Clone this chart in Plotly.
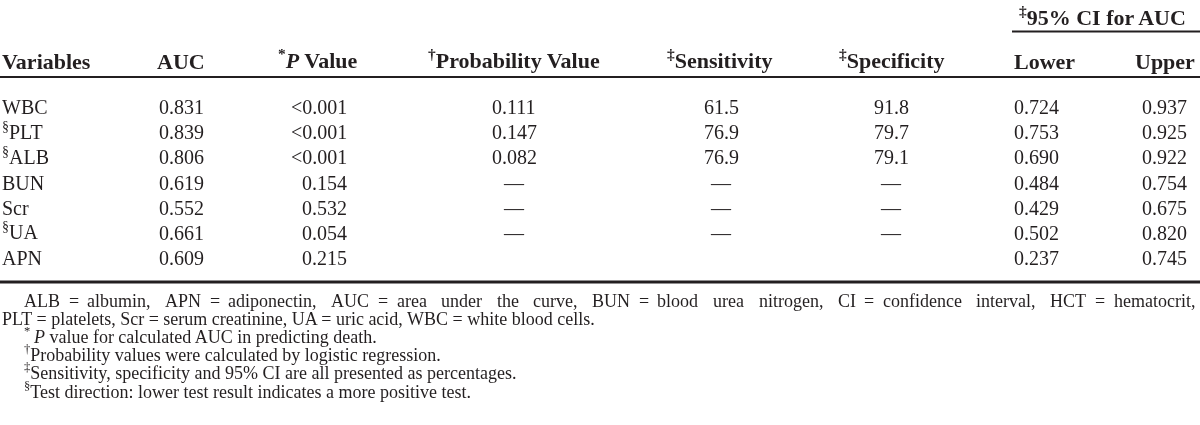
import plotly.graph_objects as go

# ---- data ----
variables = ["WBC", "PLT", "ALB", "BUN", "Scr", "UA", "APN"]
var_marks = ["", "§", "§", "", "", "§", ""]
auc = ["0.831", "0.839", "0.806", "0.619", "0.552", "0.661", "0.609"]
p_value = ["<0.001", "<0.001", "<0.001", "0.154", "0.532", "0.054", "0.215"]
prob_value = ["0.111", "0.147", "0.082", "—", "—", "—", ""]
sensitivity = ["61.5", "76.9", "76.9", "—", "—", "—", ""]
specificity = ["91.8", "79.7", "79.1", "—", "—", "—", ""]
ci_lower = ["0.724", "0.753", "0.690", "0.484", "0.429", "0.502", "0.237"]
ci_upper = ["0.937", "0.925", "0.922", "0.754", "0.675", "0.820", "0.745"]

group_header = "<sup>‡</sup>95% CI for AUC"
headers = ["Variables", "AUC", "<sup>*</sup><i>P</i> Value", "<sup>†</sup>Probability Value",
           "<sup>‡</sup>Sensitivity", "<sup>‡</sup>Specificity", "Lower", "Upper"]

# first footnote line is justified in the reference
footnote_line1 = ("ALB = albumin, APN = adiponectin, AUC = area under the curve, "
                  "BUN = blood urea nitrogen, CI = confidence interval, HCT = hematocrit,")
footnotes = [
    "PLT = platelets, Scr = serum creatinine, UA = uric acid, WBC = white blood cells.",
    "<sup>*</sup>\u2009<i>P</i> value for calculated AUC in predicting death.",
    "<sup>†</sup>Probability values were calculated by logistic regression.",
    "<sup>‡</sup>Sensitivity, specificity and 95% CI are all presented as percentages.",
    "<sup>§</sup>Test direction: lower test result indicates a more positive test.",
]

# ---- layout (pixel-based positions) ----
W, H = 1200, 425
FONT = "Liberation Serif, Times New Roman, serif"
INK = "#231f20"
BODY = 20
HEAD = 22
NOTE = 18

col_x = [0, 181, 349, 514, 721, 891, 1012, 1189]
col_anchor = ["left", "center", "right", "center", "center", "center", "left", "right"]
head_x = [0, 181, 359, 514, 720, 891, 1012, 1197]
head_anchor = ["left", "center", "right", "center", "center", "center", "left", "right"]

row_y0, row_dy = 107, 25.2
header_y = 61
group_y = 16
note_y0, note_dy = 300.5, 18.2
note_x = [0, 22, 22, 22, 22]
line1_left, line1_right = 22, 1193

# Times/Liberation Serif advance widths (per 1000 em) for justifying line 1
TW = {" ": 250, ",": 250, "=": 564, "A": 722, "B": 667, "C": 667, "H": 722, "I": 333,
      "L": 611, "N": 722, "P": 556, "T": 611, "U": 722, "a": 444, "b": 500, "c": 444,
      "d": 500, "e": 444, "f": 333, "g": 500, "h": 500, "i": 278, "l": 278, "m": 778,
      "n": 500, "o": 500, "p": 500, "r": 333, "s": 389, "t": 278, "u": 500, "v": 500}


def text_width(s, size):
    return sum(TW.get(ch, 500) for ch in s) * size / 1000.0


tokens = footnote_line1.split(" ")
widths = [text_width(w, NOTE) for w in tokens]
space_w = text_width(" ", NOTE)
# gaps next to "=" stretch less than gaps between words
weights = [0.4 if (tokens[i] == "=" or tokens[i + 1] == "=") else 1.0
           for i in range(len(tokens) - 1)]
extra = line1_right - line1_left - sum(widths) - space_w * len(weights)
unit = extra / sum(weights)
line1_x = []
xpos = line1_left
for i, wd in enumerate(widths):
    line1_x.append(xpos)
    if i < len(weights):
        xpos += wd + space_w + unit * weights[i]

annotations = []


def add(text, x, y, anchor, size=BODY, yshift=0):
    if "<sup>" in text:
        yshift += 0.08 * size
    annotations.append(dict(text=text, x=x, y=y, xref="x", yref="y", xanchor=anchor,
                            yanchor="middle", showarrow=False, yshift=yshift,
                            font=dict(family=FONT, size=size, color=INK)))


add("<b>" + group_header + "</b>", 1188, group_y, "right", HEAD, yshift=-0.08 * HEAD)
for h, x, a in zip(headers, head_x, head_anchor):
    add("<b>" + h + "</b>", x, header_y, a, HEAD)

columns = [
    [("<sup>" + m + "</sup>" if m else "") + v for m, v in zip(var_marks, variables)],
    auc, [s.replace("<", "&lt;") for s in p_value], prob_value, sensitivity, specificity,
    ci_lower, ci_upper,
]
for ci, col in enumerate(columns):
    for ri, val in enumerate(col):
        if val == "":
            continue
        add(val, col_x[ci], row_y0 + ri * row_dy, col_anchor[ci])

for w, x in zip(tokens, line1_x):
    add(w, x, note_y0, "left", NOTE)
for i, t in enumerate(footnotes):
    add(t, note_x[i], note_y0 + (i + 1) * note_dy, "left", NOTE)

shapes = [
    dict(type="line", xref="x", yref="y", x0=1012, x1=1200, y0=31.5, y1=31.5,
         line=dict(color=INK, width=2)),
    dict(type="line", xref="x", yref="y", x0=0, x1=1200, y0=77, y1=77,
         line=dict(color=INK, width=2)),
    dict(type="line", xref="x", yref="y", x0=0, x1=1200, y0=282, y1=282,
         line=dict(color=INK, width=3)),
]

fig = go.Figure(go.Scatter(x=[0, W], y=[0, H], mode="markers", opacity=0,
                           hoverinfo="skip", showlegend=False))
fig.update_layout(
    width=W, height=H, margin=dict(l=0, r=0, t=0, b=0),
    paper_bgcolor="white", plot_bgcolor="white",
    xaxis=dict(range=[0, W], visible=False, fixedrange=True),
    yaxis=dict(range=[H, 0], visible=False, fixedrange=True),
    annotations=annotations, shapes=shapes, showlegend=False,
)
fig.write_html("out.html", config={"displayModeBar": False},
               post_script="document.body.style.margin='0';document.body.style.overflow='hidden';")
